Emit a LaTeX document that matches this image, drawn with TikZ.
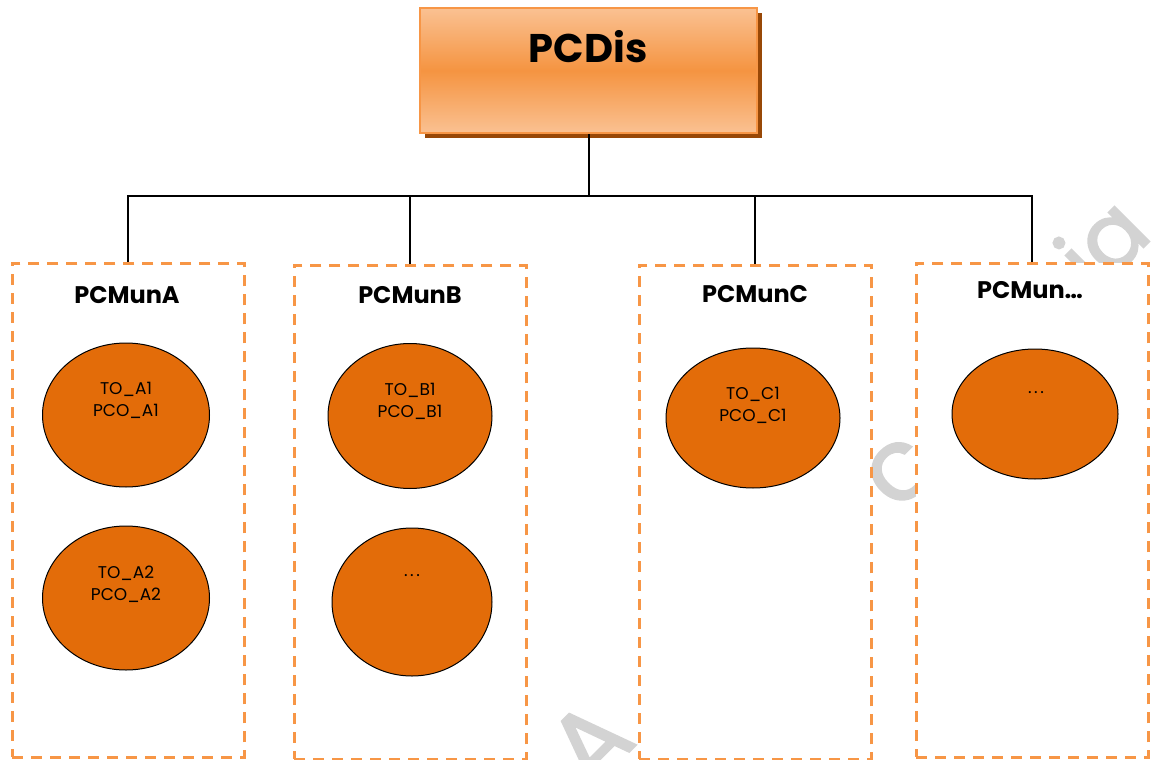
\documentclass[tikz,border=0pt]{standalone}
\usepackage{fontspec}
\setmainfont{Poppins}
\newfontfamily\wmfont[FakeBold=2]{Poppins}
\usetikzlibrary{shapes.geometric,shadows}

\definecolor{boxorange}{HTML}{F79646}
\definecolor{ovalorange}{HTML}{E36C09}
\definecolor{shadowbrown}{HTML}{984807}
\definecolor{shadelight}{HTML}{FAC192}
\definecolor{shademid}{HTML}{F59441}
\definecolor{wmgray}{HTML}{D3D3D3}

\tikzset{
  rootbox/.style={draw=boxorange, line width=2pt, top color=shadelight,
    bottom color=shadelight, middle color=shademid,
    drop shadow={shadow xshift=5pt, shadow yshift=-5pt, fill=shadowbrown, opacity=1},
    minimum width=337pt, minimum height=125pt, inner sep=0pt},
  unitbox/.style={draw=boxorange, line width=2.5pt, dash pattern=on 11pt off 8pt,
    fill=white, minimum width=232pt, minimum height=494pt, inner sep=0pt, anchor=north west},
  oval/.style={ellipse, draw=black, line width=1pt, fill=ovalorange, inner sep=0pt},
  unittitle/.style={font=\bfseries\fontsize{24}{28}\selectfont, inner sep=0pt},
  ovaltext/.style={font=\fontsize{17}{22}\selectfont, align=center, inner sep=0pt},
  conn/.style={draw=black, line width=2pt},
  wm/.style={text=wmgray, font=\wmfont\fontsize{100}{100}\selectfont, inner sep=0pt, rotate=45}
}

\begin{document}
\begin{tikzpicture}[x=1pt,y=-1pt]
  \useasboundingbox (0,0) rectangle (1157,760);

  % faint watermark letters, partly covered by the unit boxes
  \node[wm] (wmA) at (590,742) {A};
  \node[wm] (wmC) at (900,472) {c};
  \node[wm, font=\wmfont\fontsize{90}{90}\selectfont] (wmIA) at (1101,242) {ia};

  % root
  \node[rootbox] (pcdis) at (588.5,70.5) {};
  \node[font=\bfseries\fontsize{40}{46}\selectfont, inner sep=0pt] (pcdislabel) at (588,47) {PCDis};

  % unit boxes
  \node[unitbox] (munA) at (11,262) {};
  \node[unitbox] (munB) at (293,264) {};
  \node[unitbox] (munC) at (638,264) {};
  \node[unitbox] (munD) at (915,262) {};

  \node[unittitle] (tA) at (127,295) {PCMunA};
  \node[unittitle] (tB) at (410,295) {PCMunB};
  \node[unittitle] (tC) at (755,294) {PCMunC};
  \node[unittitle] (tD) at (1030,290) {PCMun…};

  % tree connectors
  \coordinate (bus) at (586,196);
  \draw[conn] (pcdis.south) -- (pcdis.south |- bus);
  \draw[conn] (munA.north) -- (munA.north |- bus) -- (munD.north |- bus) -- (munD.north);
  \draw[conn] (munB.north) -- (munB.north |- bus);
  \draw[conn] (munC.north) -- (munC.north |- bus);

  % offices
  \node[oval, minimum width=167pt, minimum height=144pt] (a1) at (126,415) {};
  \node[ovaltext] at (126,400) {TO\_A1\\PCO\_A1};
  \node[oval, minimum width=167pt, minimum height=144pt] (a2) at (126,598) {};
  \node[ovaltext] at (126,584) {TO\_A2\\PCO\_A2};

  \node[oval, minimum width=164pt, minimum height=145pt] (b1) at (410,416) {};
  \node[ovaltext] at (410,401) {TO\_B1\\PCO\_B1};
  \node[oval, minimum width=160pt, minimum height=148pt] (b2) at (412,602) {};
  \node[ovaltext] at (412,576) {.\kern2.5pt.\kern2.5pt.};

  \node[oval, minimum width=174pt, minimum height=140pt] (c1) at (753,418) {};
  \node[ovaltext] at (753,405) {TO\_C1\\PCO\_C1};

  \node[oval, minimum width=166pt, minimum height=130pt] (d1) at (1035,414) {};
  \node[ovaltext] at (1036,393) {.\kern2.5pt.\kern2.5pt.};
\end{tikzpicture}
\end{document}
